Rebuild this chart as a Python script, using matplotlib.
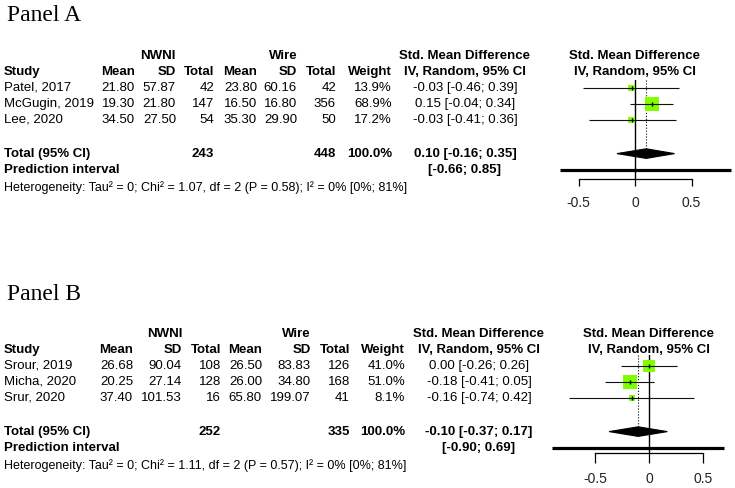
import numpy as np
import matplotlib.pyplot as plt

plt.rcParams['font.family'] = ['Liberation Sans', 'DejaVu Sans']
plt.rcParams['axes.unicode_minus'] = False

W, H = 735, 488
FS = 9.5
GREEN = '#80ff00'

# ---- Panel A data ----
a_study = ['Patel, 2017', 'McGugin, 2019', 'Lee, 2020']
a_mean1 = ['21.80', '19.30', '34.50']
a_sd1 = ['57.87', '21.80', '27.50']
a_n1 = [42, 147, 54]
a_mean2 = ['23.80', '16.50', '35.30']
a_sd2 = ['60.16', '16.80', '29.90']
a_n2 = [42, 356, 50]
a_weight = [13.9, 68.9, 17.2]
a_smd = [-0.03, 0.15, -0.03]
a_lo = [-0.46, -0.04, -0.41]
a_hi = [0.39, 0.34, 0.36]
a_pooled = (0.10, -0.16, 0.35)
a_pred = (-0.66, 0.85)
a_het = 'Heterogeneity: Tau² = 0; Chi² = 1.07, df = 2 (P = 0.58); I² = 0% [0%; 81%]'

# ---- Panel B data ----
b_study = ['Srour, 2019', 'Micha, 2020', 'Srur, 2020']
b_mean1 = ['26.68', '20.25', '37.40']
b_sd1 = ['90.04', '27.14', '101.53']
b_n1 = [108, 128, 16]
b_mean2 = ['26.50', '26.00', '65.80']
b_sd2 = ['83.83', '34.80', '199.07']
b_n2 = [126, 168, 41]
b_weight = [41.0, 51.0, 8.1]
b_smd = [0.00, -0.18, -0.16]
b_lo = [-0.26, -0.41, -0.74]
b_hi = [0.26, 0.05, 0.42]
b_pooled = (-0.10, -0.37, 0.17)
b_pred = (-0.90, 0.69)
b_het = 'Heterogeneity: Tau² = 0; Chi² = 1.11, df = 2 (P = 0.57); I² = 0% [0%; 81%]'

ticks = [-0.5, 0, 0.5]

fig = plt.figure(figsize=(W / 100, H / 100), dpi=100)


def fmt(v):
    return f'{v:.2f}'


def panel(title, title_y, y0, cols, smd_x, zero_x, scale, ax_top, ax_bot, tick_len,
          study, m1, s1, n1, m2, s2, n2, wt, est, lo, hi, pooled, pred, het):
    n = len(study)
    r_tot = n + 1.1
    r_pred = n + 2.1
    r_het = n + 3.25

    # panel title
    fig.text(7 / W, 1 - title_y / H, title, family='Liberation Serif', fontsize=17,
             ha='left', va='baseline')

    # table axes in pixel (x) / row (y) units
    t = fig.add_axes([0, 0, 1, 1])
    t.set_xlim(0, W)
    t.set_ylim((H - y0) / 16, -y0 / 16)
    t.axis('off')
    c_mean1, c_sd1, c_n1, c_mean2, c_sd2, c_n2, c_w, c_g1, c_g2 = cols
    bold = dict(fontsize=FS, fontweight='bold', va='center')
    norm = dict(fontsize=FS, va='center')

    t.text(c_g1, -2, 'NWNI', ha='center', **bold)
    t.text(c_g2, -2, 'Wire', ha='center', **bold)
    for x in (smd_x, zero_x):
        t.text(x, -2, 'Std. Mean Difference', ha='center', **bold)
        t.text(x, -1, 'IV, Random, 95% CI', ha='center', **bold)
    t.text(4, -1, 'Study', ha='left', **bold)
    for x, s in zip([c_mean1, c_sd1, c_n1, c_mean2, c_sd2, c_n2, c_w],
                    ['Mean', 'SD', 'Total', 'Mean', 'SD', 'Total', 'Weight']):
        t.text(x, -1, s, ha='right', **bold)

    for i in range(n):
        t.text(4, i, study[i], ha='left', **norm)
        row = [m1[i], s1[i], str(n1[i]), m2[i], s2[i], str(n2[i]), f'{wt[i]:.1f}%']
        for x, s in zip([c_mean1, c_sd1, c_n1, c_mean2, c_sd2, c_n2, c_w], row):
            t.text(x, i, s, ha='right', **norm)
        t.text(smd_x, i, f'{fmt(est[i])} [{fmt(lo[i])}; {fmt(hi[i])}]', ha='center', **norm)

    t.text(4, r_tot, 'Total (95% CI)', ha='left', **bold)
    t.text(c_n1, r_tot, str(sum(n1)), ha='right', **bold)
    t.text(c_n2, r_tot, str(sum(n2)), ha='right', **bold)
    t.text(c_w, r_tot, '100.0%', ha='right', **bold)
    t.text(smd_x, r_tot, f'{fmt(pooled[0])} [{fmt(pooled[1])}; {fmt(pooled[2])}]',
           ha='center', **bold)
    t.text(4, r_pred, 'Prediction interval', ha='left', **bold)
    t.text(smd_x, r_pred, f'[{fmt(pred[0])}; {fmt(pred[1])}]', ha='center', **bold)
    t.text(4, r_het, het, ha='left', fontsize=9.0, va='center')

    # forest axes
    left_px, right_px = 548, W
    ax = fig.add_axes([left_px / W, 1 - ax_bot / H, (right_px - left_px) / W,
                       (ax_bot - ax_top) / H])
    ax.set_xlim((left_px - zero_x) / scale, (right_px - zero_x) / scale)
    ax.set_ylim((ax_bot - y0) / 16, (ax_top - y0) / 16)
    ax.patch.set_alpha(0)
    for sp in ['top', 'left', 'right']:
        ax.spines[sp].set_visible(False)
    ax.spines['bottom'].set_bounds(-0.5, 0.5)
    ax.spines['bottom'].set_linewidth(0.9)
    ax.set_yticks([])
    ax.set_xticks(ticks)
    ax.set_xticklabels(['-0.5', '0', '0.5'])
    ax.tick_params(axis='x', length=tick_len, width=0.9, pad=7, labelsize=FS + 0.5)
    for lab in ax.get_xticklabels():
        lab.set_color('#222222')

    ax.axvline(0, color='black', lw=1.0, zorder=1)
    ax.plot([pooled[0], pooled[0]], [ax.get_ylim()[1], r_tot], color='black',
            lw=0.8, ls=':', zorder=1)

    rows = np.arange(n)
    wmax = max(wt)
    side = 14 * np.sqrt(np.array(wt) / wmax) * 0.72
    ax.scatter(est, rows, marker='s', s=side ** 2, color=GREEN, lw=0, zorder=2)
    ax.hlines(rows, lo, hi, color='#111111', lw=0.8, zorder=3)
    ax.scatter(est, rows, marker='|', s=9, color='black', lw=1, zorder=4)

    p, plo, phi = pooled
    ax.fill([plo, p, phi, p], [r_tot, r_tot - 0.3, r_tot, r_tot + 0.3],
            color='black', lw=0.8, zorder=3)
    ax.plot([pred[0], pred[1]], [r_pred, r_pred], color='black', lw=2.3,
            solid_capstyle='butt', clip_on=False, zorder=3)


panel('Panel A', 21, 88, [135, 176, 214, 257, 297, 336, 392, 158, 283], 465,
      635, 113, 80, 179, 5,
      a_study, a_mean1, a_sd1, a_n1, a_mean2, a_sd2, a_n2, a_weight,
      a_smd, a_lo, a_hi, a_pooled, a_pred, a_het)
panel('Panel B', 300, 366, [133, 182, 221, 262, 311, 350, 405, 165, 296], 479,
      649, 108, 355, 453, 7,
      b_study, b_mean1, b_sd1, b_n1, b_mean2, b_sd2, b_n2, b_weight,
      b_smd, b_lo, b_hi, b_pooled, b_pred, b_het)

fig.savefig('out.png', dpi=100)
